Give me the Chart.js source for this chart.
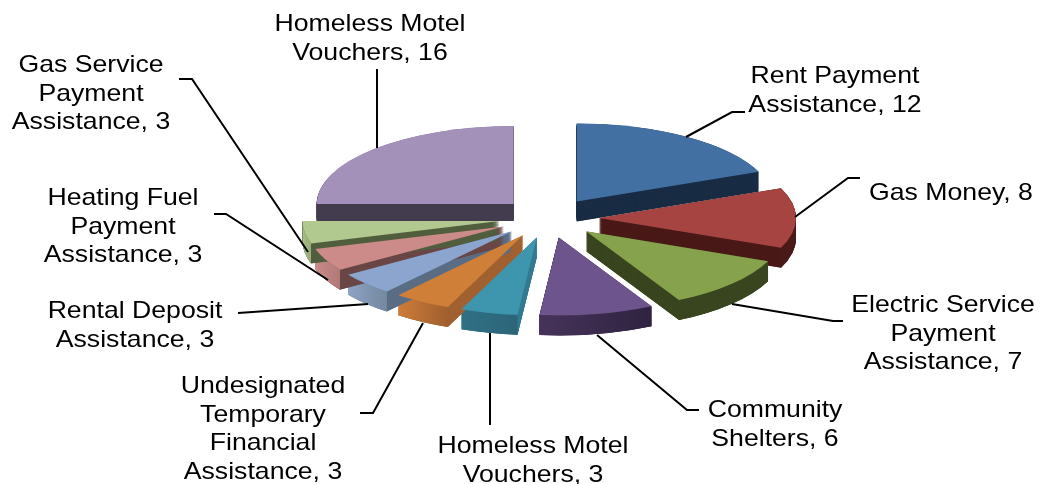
<!DOCTYPE html>
<html lang="en">
<head>
<meta charset="UTF-8">
<title>Assistance pie</title>
<script src="https://cdn.jsdelivr.net/npm/chart.js"></script>
<style>
  html, body { margin: 0; padding: 0; background: #fff; }
  #wrap { width: 1050px; height: 484px; }
</style>
</head>
<body>
<div id="wrap"><canvas id="pie" width="1050" height="484"></canvas></div>
<script>
  // values, clockwise from 12 o'clock
  const categories = ["Rent Payment\nAssistance", "Gas Money", "Electric Service\nPayment\nAssistance",
    "Community\nShelters", "Homeless Motel\nVouchers", "Undesignated\nTemporary\nFinancial\nAssistance",
    "Rental Deposit\nAssistance", "Heating Fuel\nPayment\nAssistance", "Gas Service\nPayment\nAssistance",
    "Homeless Motel\nVouchers"];
  const values = [12, 8, 7, 6, 3, 3, 3, 3, 3, 16];

  const topColors = ["#4370a2", "#a64441", "#86a24c", "#6e548c", "#3d96ae", "#d07f39", "#8ca5cf", "#cc8b88", "#b1c98f", "#a391b9"];
  const wallColors = ["#1a2d45", "#4a1a18", "#39451f", "#2f2340", "#347c90", "#a06030", "#5b6e85", "#6b4747", "#525f3f", "#433d4f"];
  const rimLeft = ["#1a2d45", "#4a1a18", "#39451f", "#46335a", "#2f7085", "#cd7c38", "#8ea3c4", "#c98a88", "#a8bd86", "#433d4f"];
  const rimRight = ["#1a2d45", "#4a1a18", "#39451f", "#2f2340", "#2c6578", "#a05f2e", "#74889f", "#b07a78", "#98ab78", "#433d4f"];
  const wallDepth = [20, 20, 20, 20, 20, 20, 20, 20, 20, 17];

  // label centre x, first baseline y
  const labelX = [835, 951, 943, 775, 533, 263, 135, 123, 91, 370];
  const labelY = [83, 200, 312, 417, 453, 393, 318, 205, 72, 31];
  const lineGap = 28.7;
  const textStretch = 1.11;

  const leaders = [
    [[686, 137], [732, 112], [745, 112]],
    [[795, 217], [848, 178], [860, 178]],
    [[732, 304], [833, 321], [843, 321]],
    [[597, 335], [687, 410], [699, 410]],
    [[490, 333], [490, 425]],
    [[423, 323], [373, 413], [360, 413]],
    [[368, 304], [238, 313]],
    [[328, 280], [226, 214], [214, 214]],
    [[308, 252], [192, 79], [179, 79]],
    [[377, 148], [377, 69]]
  ];

  const centerX = 549, centerY = 218, squash = 0.396, explode = 50;

  const pie3d = {
    id: "pie3d",
    beforeDatasetsDraw(chart) {
      const ctx = chart.ctx;
      const arcs = chart.getDatasetMeta(0).data;
      ctx.save();
      ctx.translate(centerX, centerY);
      ctx.scale(1, squash);
      ctx.translate(-arcs[0].x, -arcs[0].y);

      arcs.forEach((arc, i) => {
        const mid = (arc.startAngle + arc.endAngle) / 2;
        const ox = arc.x + Math.cos(mid) * explode;
        const oy = arc.y + Math.sin(mid) * explode;
        const D = wallDepth[i] / squash;
        // radial walls
        ctx.fillStyle = wallColors[i];
        for (let d = D; d > 0; d -= 1) {
          ctx.beginPath();
          ctx.moveTo(ox, oy + d);
          ctx.arc(ox, oy + d, arc.outerRadius, arc.startAngle, arc.endAngle);
          ctx.closePath();
          ctx.fill();
        }
        // front rim
        const a0 = Math.max(arc.startAngle, 0);
        const a1 = Math.min(arc.endAngle, Math.PI);
        if (a1 > a0) {
          const x0 = ox + Math.cos(a1) * arc.outerRadius;
          const x1 = ox + Math.cos(a0) * arc.outerRadius;
          const grad = ctx.createLinearGradient(x0, 0, x1, 0);
          grad.addColorStop(0, rimLeft[i]);
          grad.addColorStop(1, rimRight[i]);
          ctx.fillStyle = grad;
          ctx.beginPath();
          ctx.arc(ox, oy, arc.outerRadius, a0, a1);
          ctx.arc(ox, oy + D, arc.outerRadius, a1, a0, true);
          ctx.closePath();
          ctx.fill();
        }
      });

      // top faces, each slice pulled out along its middle angle
      arcs.forEach(arc => {
        const mid = (arc.startAngle + arc.endAngle) / 2;
        ctx.save();
        ctx.translate(Math.cos(mid) * explode, Math.sin(mid) * explode);
        arc.draw(ctx);
        ctx.restore();
      });
      ctx.restore();
    },
    // the slices are already drawn above
    beforeDatasetDraw() {
      return false;
    },
    afterDatasetsDraw(chart) {
      const ctx = chart.ctx;

      ctx.strokeStyle = "#000";
      ctx.lineWidth = 2;
      leaders.forEach(pts => {
        ctx.beginPath();
        pts.forEach((p, k) => k ? ctx.lineTo(p[0], p[1]) : ctx.moveTo(p[0], p[1]));
        ctx.stroke();
      });

      ctx.fillStyle = "#000";
      ctx.font = '24px "Liberation Sans", Arial, sans-serif';
      ctx.textAlign = "center";
      ctx.textBaseline = "alphabetic";
      categories.forEach((cat, i) => {
        const lines = (cat + ", " + values[i]).split("\n");
        lines.forEach((line, k) => {
          ctx.save();
          ctx.translate(labelX[i], labelY[i] + k * lineGap);
          ctx.scale(textStretch, 1);
          ctx.fillText(line, 0, 0);
          ctx.restore();
        });
      });
    }
  };

  new Chart(document.getElementById("pie"), {
    type: "pie",
    data: {
      labels: categories,
      datasets: [{
        data: values,
        backgroundColor: topColors,
        borderWidth: 0
      }]
    },
    options: {
      responsive: false,
      animation: false,
      radius: 197,
      events: [],
      plugins: { legend: { display: false }, tooltip: { enabled: false } }
    },
    plugins: [pie3d]
  });
</script>
</body>
</html>
